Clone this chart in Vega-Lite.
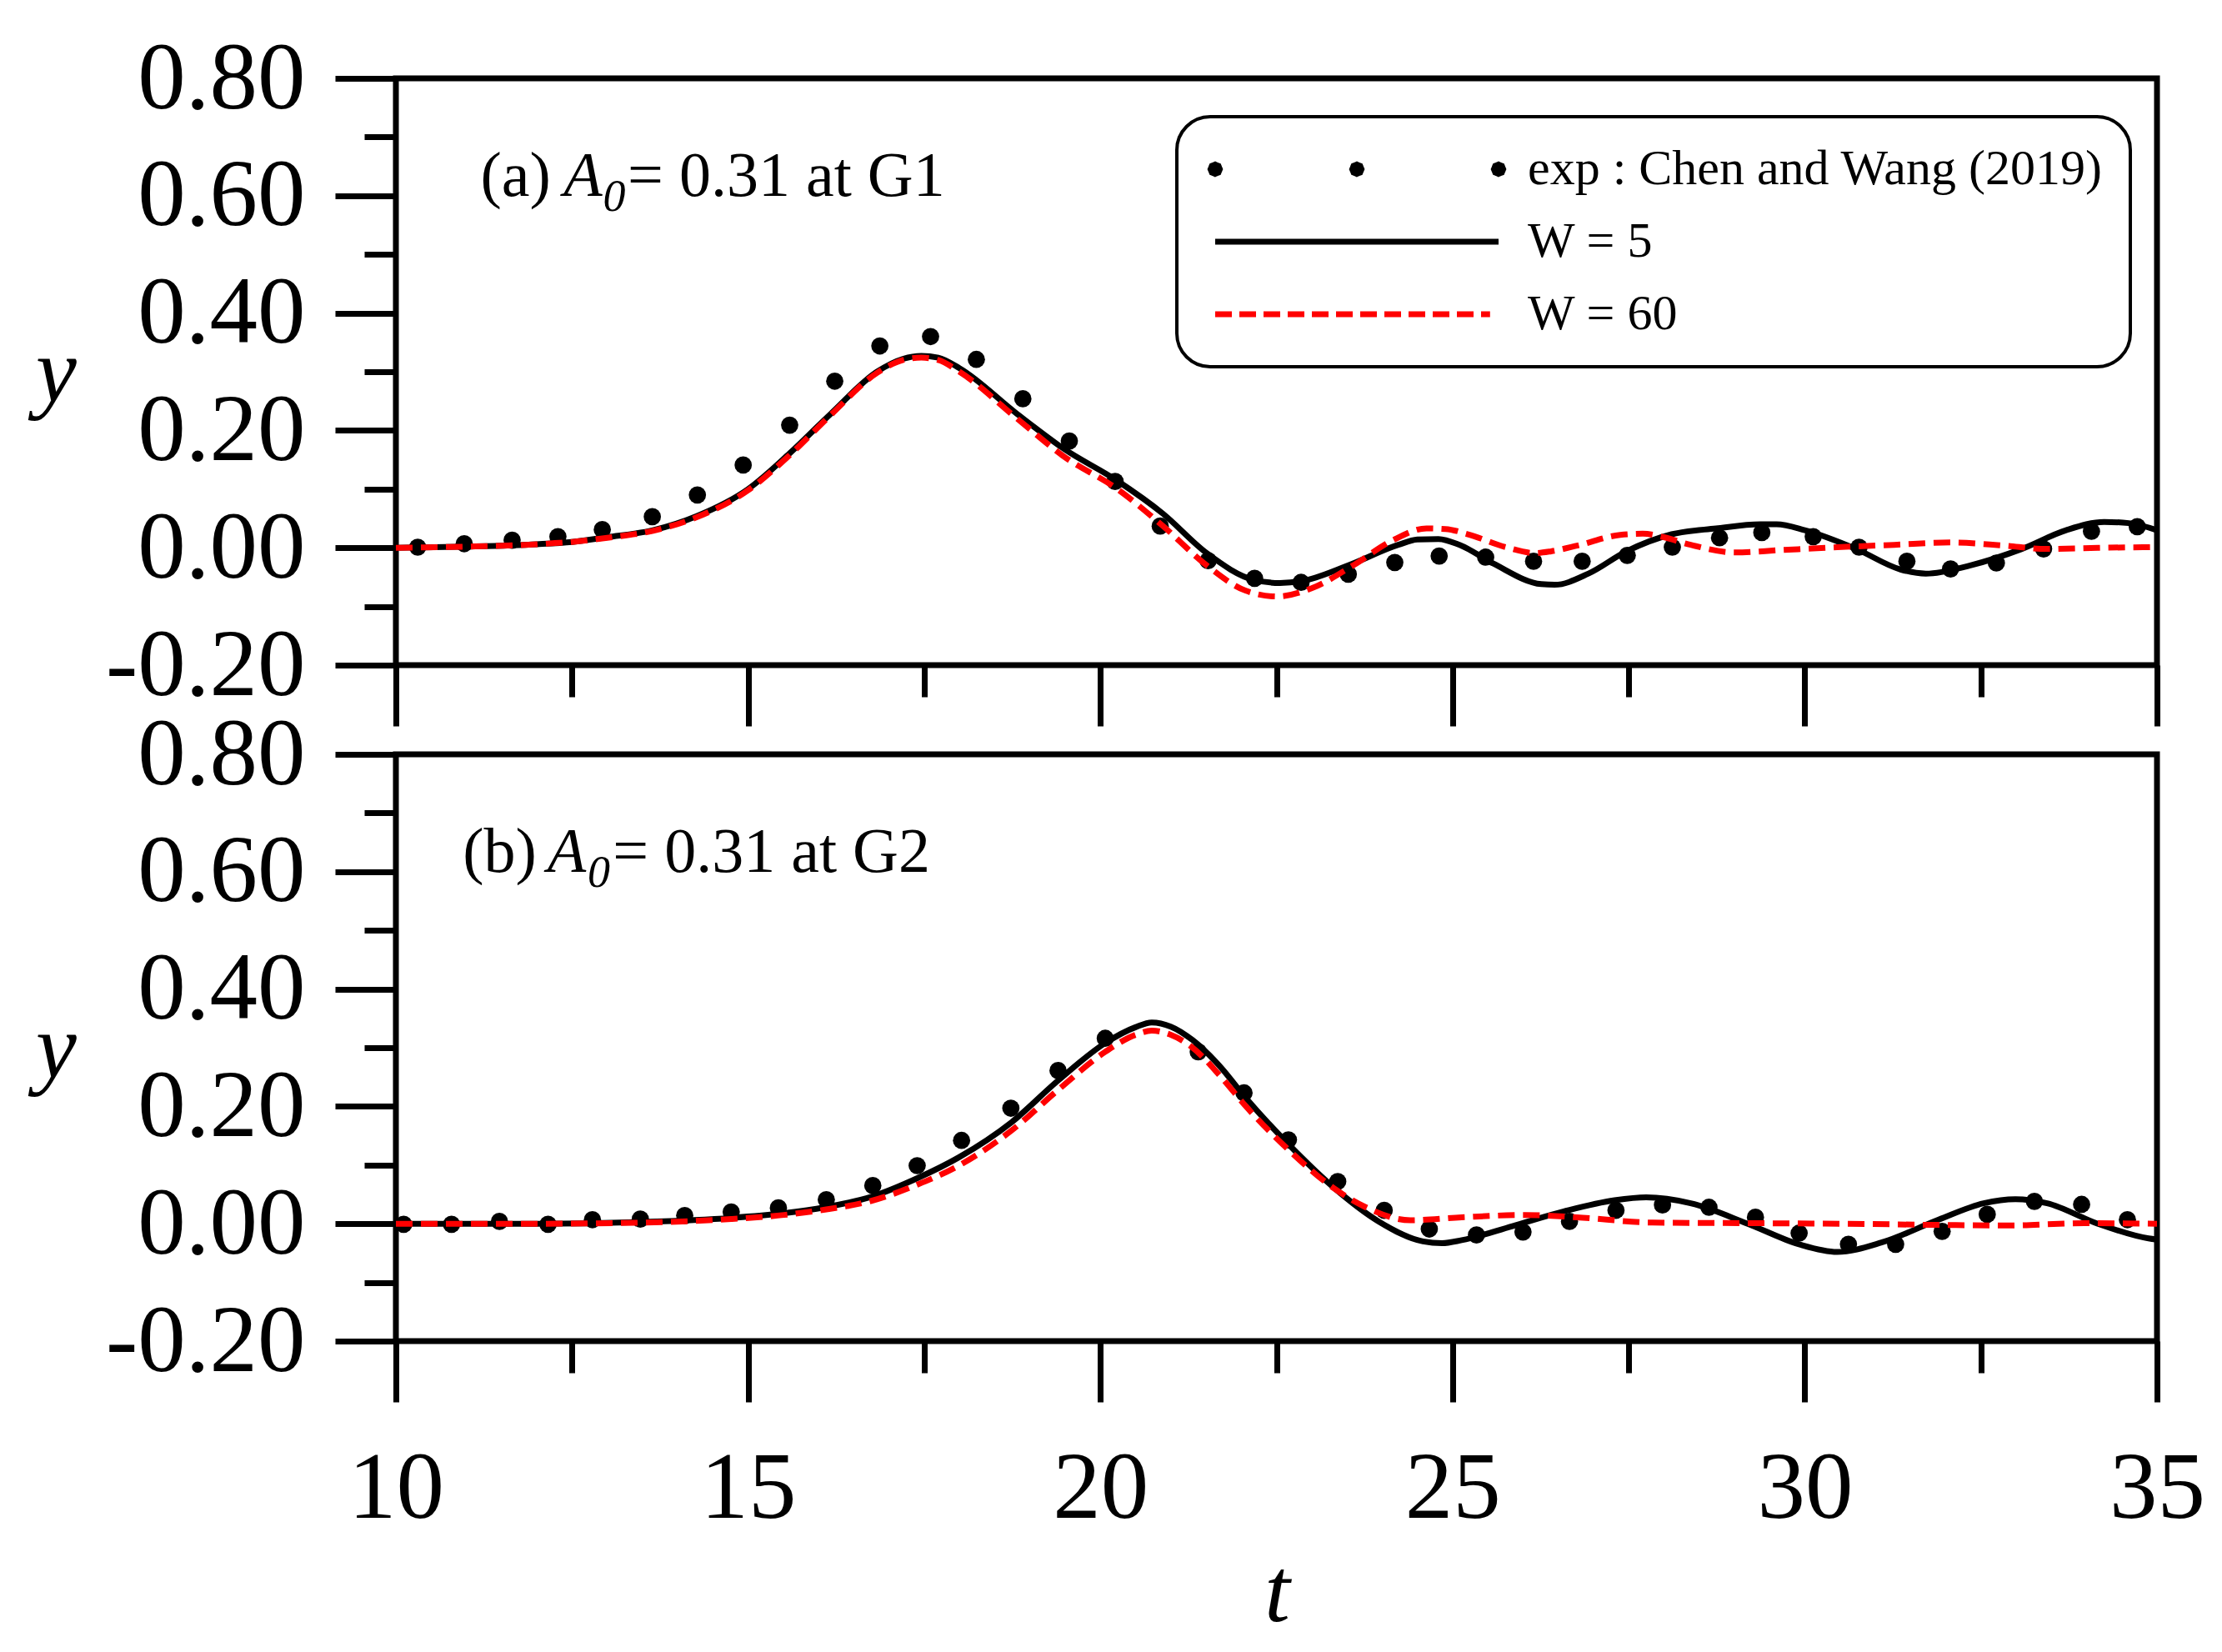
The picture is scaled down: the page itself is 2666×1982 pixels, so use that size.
{
  "$schema": "https://vega.github.io/schema/vega-lite/v6.json",
  "background": "white",
  "autosize": {"type": "pad"},
  "padding": {"left": 39, "top": 33, "right": 5, "bottom": 5},
  "bounds": "flush",
  "spacing": 107,
  "datasets": {
    "top": [
      {"series": "exp", "t": 10.31, "y": 0.001},
      {"series": "exp", "t": 10.97, "y": 0.007},
      {"series": "exp", "t": 11.65, "y": 0.013},
      {"series": "exp", "t": 12.30, "y": 0.019},
      {"series": "exp", "t": 12.93, "y": 0.031},
      {"series": "exp", "t": 13.64, "y": 0.053},
      {"series": "exp", "t": 14.28, "y": 0.090},
      {"series": "exp", "t": 14.93, "y": 0.141},
      {"series": "exp", "t": 15.59, "y": 0.209},
      {"series": "exp", "t": 16.23, "y": 0.284},
      {"series": "exp", "t": 16.87, "y": 0.344},
      {"series": "exp", "t": 17.59, "y": 0.360},
      {"series": "exp", "t": 18.24, "y": 0.321},
      {"series": "exp", "t": 18.90, "y": 0.254},
      {"series": "exp", "t": 19.56, "y": 0.182},
      {"series": "exp", "t": 20.21, "y": 0.113},
      {"series": "exp", "t": 20.85, "y": 0.037},
      {"series": "exp", "t": 21.53, "y": -0.022},
      {"series": "exp", "t": 22.19, "y": -0.052},
      {"series": "exp", "t": 22.85, "y": -0.059},
      {"series": "exp", "t": 23.52, "y": -0.045},
      {"series": "exp", "t": 24.18, "y": -0.025},
      {"series": "exp", "t": 24.81, "y": -0.014},
      {"series": "exp", "t": 25.47, "y": -0.016},
      {"series": "exp", "t": 26.15, "y": -0.023},
      {"series": "exp", "t": 26.84, "y": -0.023},
      {"series": "exp", "t": 27.48, "y": -0.013},
      {"series": "exp", "t": 28.12, "y": 0.001},
      {"series": "exp", "t": 28.79, "y": 0.017},
      {"series": "exp", "t": 29.39, "y": 0.026},
      {"series": "exp", "t": 30.12, "y": 0.019},
      {"series": "exp", "t": 30.77, "y": 0.001},
      {"series": "exp", "t": 31.45, "y": -0.023},
      {"series": "exp", "t": 32.07, "y": -0.036},
      {"series": "exp", "t": 32.72, "y": -0.026},
      {"series": "exp", "t": 33.39, "y": -0.002},
      {"series": "exp", "t": 34.07, "y": 0.028},
      {"series": "exp", "t": 34.72, "y": 0.036},
      {"series": "W5", "t": 10.0, "y": 0.0},
      {"series": "W5", "t": 11.0, "y": 0.002},
      {"series": "W5", "t": 12.0, "y": 0.006},
      {"series": "W5", "t": 12.5, "y": 0.010},
      {"series": "W5", "t": 13.0, "y": 0.018},
      {"series": "W5", "t": 13.65, "y": 0.030},
      {"series": "W5", "t": 14.27, "y": 0.054},
      {"series": "W5", "t": 15.0, "y": 0.100},
      {"series": "W5", "t": 15.59, "y": 0.161},
      {"series": "W5", "t": 16.17, "y": 0.228},
      {"series": "W5", "t": 16.83, "y": 0.300},
      {"series": "W5", "t": 17.2, "y": 0.322},
      {"series": "W5", "t": 17.46, "y": 0.327},
      {"series": "W5", "t": 17.7, "y": 0.324},
      {"series": "W5", "t": 18.0, "y": 0.306},
      {"series": "W5", "t": 18.82, "y": 0.228},
      {"series": "W5", "t": 19.49, "y": 0.168},
      {"series": "W5", "t": 20.23, "y": 0.115},
      {"series": "W5", "t": 20.89, "y": 0.058},
      {"series": "W5", "t": 21.51, "y": -0.009},
      {"series": "W5", "t": 22.19, "y": -0.055},
      {"series": "W5", "t": 22.55, "y": -0.060},
      {"series": "W5", "t": 22.85, "y": -0.057},
      {"series": "W5", "t": 23.52, "y": -0.030},
      {"series": "W5", "t": 24.23, "y": 0.005},
      {"series": "W5", "t": 24.5, "y": 0.014},
      {"series": "W5", "t": 24.8, "y": 0.015},
      {"series": "W5", "t": 25.1, "y": 0.005},
      {"series": "W5", "t": 25.58, "y": -0.027},
      {"series": "W5", "t": 26.26, "y": -0.062},
      {"series": "W5", "t": 26.45, "y": -0.063},
      {"series": "W5", "t": 26.93, "y": -0.044},
      {"series": "W5", "t": 27.47, "y": -0.006},
      {"series": "W5", "t": 28.11, "y": 0.023},
      {"series": "W5", "t": 28.74, "y": 0.033},
      {"series": "W5", "t": 29.37, "y": 0.040},
      {"series": "W5", "t": 29.6, "y": 0.040},
      {"series": "W5", "t": 30.0, "y": 0.030},
      {"series": "W5", "t": 30.73, "y": -0.002},
      {"series": "W5", "t": 31.36, "y": -0.037},
      {"series": "W5", "t": 31.72, "y": -0.044},
      {"series": "W5", "t": 32.35, "y": -0.030},
      {"series": "W5", "t": 33.08, "y": -0.002},
      {"series": "W5", "t": 33.71, "y": 0.030},
      {"series": "W5", "t": 34.25, "y": 0.044},
      {"series": "W5", "t": 34.6, "y": 0.042},
      {"series": "W5", "t": 35.0, "y": 0.030},
      {"series": "W60", "t": 10.0, "y": 0.0},
      {"series": "W60", "t": 11.0, "y": 0.002},
      {"series": "W60", "t": 12.0, "y": 0.006},
      {"series": "W60", "t": 12.5, "y": 0.010},
      {"series": "W60", "t": 13.0, "y": 0.017},
      {"series": "W60", "t": 13.65, "y": 0.029},
      {"series": "W60", "t": 14.27, "y": 0.052},
      {"series": "W60", "t": 15.0, "y": 0.098},
      {"series": "W60", "t": 15.59, "y": 0.158},
      {"series": "W60", "t": 16.17, "y": 0.226},
      {"series": "W60", "t": 16.83, "y": 0.298},
      {"series": "W60", "t": 17.2, "y": 0.320},
      {"series": "W60", "t": 17.46, "y": 0.324},
      {"series": "W60", "t": 17.7, "y": 0.320},
      {"series": "W60", "t": 18.0, "y": 0.300},
      {"series": "W60", "t": 18.82, "y": 0.220},
      {"series": "W60", "t": 19.49, "y": 0.155},
      {"series": "W60", "t": 20.23, "y": 0.101},
      {"series": "W60", "t": 20.89, "y": 0.037},
      {"series": "W60", "t": 21.51, "y": -0.030},
      {"series": "W60", "t": 22.06, "y": -0.073},
      {"series": "W60", "t": 22.51, "y": -0.083},
      {"series": "W60", "t": 23.0, "y": -0.069},
      {"series": "W60", "t": 23.59, "y": -0.030},
      {"series": "W60", "t": 24.14, "y": 0.012},
      {"series": "W60", "t": 24.63, "y": 0.033},
      {"series": "W60", "t": 24.9, "y": 0.032},
      {"series": "W60", "t": 25.22, "y": 0.023},
      {"series": "W60", "t": 25.76, "y": 0.001},
      {"series": "W60", "t": 26.17, "y": -0.009},
      {"series": "W60", "t": 26.4, "y": -0.006},
      {"series": "W60", "t": 26.78, "y": 0.004},
      {"series": "W60", "t": 27.38, "y": 0.022},
      {"series": "W60", "t": 27.7, "y": 0.024},
      {"series": "W60", "t": 28.0, "y": 0.018},
      {"series": "W60", "t": 28.38, "y": 0.005},
      {"series": "W60", "t": 29.01, "y": -0.008},
      {"series": "W60", "t": 29.65, "y": -0.004},
      {"series": "W60", "t": 30.46, "y": 0.001},
      {"series": "W60", "t": 31.27, "y": 0.005},
      {"series": "W60", "t": 32.08, "y": 0.009},
      {"series": "W60", "t": 32.81, "y": 0.004},
      {"series": "W60", "t": 33.44, "y": -0.002},
      {"series": "W60", "t": 34.16, "y": 0.0},
      {"series": "W60", "t": 35.0, "y": 0.001}
    ],
    "bottom": [
      {"series": "exp", "t": 10.11, "y": -0.001},
      {"series": "exp", "t": 10.79, "y": -0.001},
      {"series": "exp", "t": 11.47, "y": 0.004},
      {"series": "exp", "t": 12.16, "y": -0.001},
      {"series": "exp", "t": 12.79, "y": 0.007},
      {"series": "exp", "t": 13.47, "y": 0.008},
      {"series": "exp", "t": 14.10, "y": 0.014},
      {"series": "exp", "t": 14.76, "y": 0.020},
      {"series": "exp", "t": 15.43, "y": 0.027},
      {"series": "exp", "t": 16.11, "y": 0.041},
      {"series": "exp", "t": 16.77, "y": 0.065},
      {"series": "exp", "t": 17.40, "y": 0.099},
      {"series": "exp", "t": 18.03, "y": 0.142},
      {"series": "exp", "t": 18.73, "y": 0.197},
      {"series": "exp", "t": 19.40, "y": 0.261},
      {"series": "exp", "t": 20.07, "y": 0.316},
      {"series": "exp", "t": 21.39, "y": 0.293},
      {"series": "exp", "t": 22.04, "y": 0.223},
      {"series": "exp", "t": 22.67, "y": 0.143},
      {"series": "exp", "t": 23.37, "y": 0.072},
      {"series": "exp", "t": 24.03, "y": 0.023},
      {"series": "exp", "t": 24.67, "y": -0.009},
      {"series": "exp", "t": 25.34, "y": -0.019},
      {"series": "exp", "t": 26.00, "y": -0.014},
      {"series": "exp", "t": 26.66, "y": 0.004},
      {"series": "exp", "t": 27.32, "y": 0.023},
      {"series": "exp", "t": 27.98, "y": 0.032},
      {"series": "exp", "t": 28.64, "y": 0.028},
      {"series": "exp", "t": 29.30, "y": 0.011},
      {"series": "exp", "t": 29.92, "y": -0.016},
      {"series": "exp", "t": 30.62, "y": -0.035},
      {"series": "exp", "t": 31.29, "y": -0.035},
      {"series": "exp", "t": 31.95, "y": -0.013},
      {"series": "exp", "t": 32.59, "y": 0.016},
      {"series": "exp", "t": 33.26, "y": 0.038},
      {"series": "exp", "t": 33.93, "y": 0.033},
      {"series": "exp", "t": 34.58, "y": 0.007},
      {"series": "W5", "t": 10.0, "y": 0.0},
      {"series": "W5", "t": 12.0, "y": 0.0},
      {"series": "W5", "t": 13.5, "y": 0.003},
      {"series": "W5", "t": 14.76, "y": 0.010},
      {"series": "W5", "t": 15.51, "y": 0.018},
      {"series": "W5", "t": 16.09, "y": 0.028},
      {"series": "W5", "t": 16.75, "y": 0.046},
      {"series": "W5", "t": 17.41, "y": 0.078},
      {"series": "W5", "t": 17.99, "y": 0.113},
      {"series": "W5", "t": 18.74, "y": 0.173},
      {"series": "W5", "t": 19.40, "y": 0.244},
      {"series": "W5", "t": 20.07, "y": 0.308},
      {"series": "W5", "t": 20.5, "y": 0.335},
      {"series": "W5", "t": 20.73, "y": 0.343},
      {"series": "W5", "t": 21.0, "y": 0.336},
      {"series": "W5", "t": 21.31, "y": 0.313},
      {"series": "W5", "t": 21.7, "y": 0.268},
      {"series": "W5", "t": 22.06, "y": 0.215},
      {"series": "W5", "t": 22.69, "y": 0.133},
      {"series": "W5", "t": 23.32, "y": 0.061},
      {"series": "W5", "t": 23.95, "y": 0.004},
      {"series": "W5", "t": 24.58, "y": -0.030},
      {"series": "W5", "t": 24.85, "y": -0.033},
      {"series": "W5", "t": 25.13, "y": -0.028},
      {"series": "W5", "t": 25.85, "y": -0.004},
      {"series": "W5", "t": 26.58, "y": 0.021},
      {"series": "W5", "t": 27.30, "y": 0.040},
      {"series": "W5", "t": 27.75, "y": 0.045},
      {"series": "W5", "t": 28.38, "y": 0.035},
      {"series": "W5", "t": 29.19, "y": 0.0},
      {"series": "W5", "t": 29.92, "y": -0.035},
      {"series": "W5", "t": 30.46, "y": -0.048},
      {"series": "W5", "t": 31.09, "y": -0.032},
      {"series": "W5", "t": 31.90, "y": 0.007},
      {"series": "W5", "t": 32.54, "y": 0.035},
      {"series": "W5", "t": 32.99, "y": 0.042},
      {"series": "W5", "t": 33.44, "y": 0.035},
      {"series": "W5", "t": 34.16, "y": 0.0},
      {"series": "W5", "t": 34.88, "y": -0.025},
      {"series": "W5", "t": 35.0, "y": -0.027},
      {"series": "W60", "t": 10.0, "y": 0.0},
      {"series": "W60", "t": 12.0, "y": 0.0},
      {"series": "W60", "t": 13.5, "y": 0.002},
      {"series": "W60", "t": 14.76, "y": 0.008},
      {"series": "W60", "t": 15.51, "y": 0.015},
      {"series": "W60", "t": 16.09, "y": 0.024},
      {"series": "W60", "t": 16.75, "y": 0.039},
      {"series": "W60", "t": 17.41, "y": 0.067},
      {"series": "W60", "t": 17.99, "y": 0.099},
      {"series": "W60", "t": 18.74, "y": 0.159},
      {"series": "W60", "t": 19.40, "y": 0.228},
      {"series": "W60", "t": 20.07, "y": 0.293},
      {"series": "W60", "t": 20.5, "y": 0.322},
      {"series": "W60", "t": 20.73, "y": 0.329},
      {"series": "W60", "t": 21.0, "y": 0.322},
      {"series": "W60", "t": 21.31, "y": 0.300},
      {"series": "W60", "t": 21.7, "y": 0.252},
      {"series": "W60", "t": 22.06, "y": 0.201},
      {"series": "W60", "t": 22.69, "y": 0.124},
      {"series": "W60", "t": 23.32, "y": 0.060},
      {"series": "W60", "t": 23.77, "y": 0.028},
      {"series": "W60", "t": 24.40, "y": 0.006},
      {"series": "W60", "t": 25.13, "y": 0.011},
      {"series": "W60", "t": 26.04, "y": 0.015},
      {"series": "W60", "t": 26.76, "y": 0.011},
      {"series": "W60", "t": 27.84, "y": 0.002},
      {"series": "W60", "t": 29.19, "y": 0.001},
      {"series": "W60", "t": 30.55, "y": 0.0},
      {"series": "W60", "t": 31.90, "y": -0.002},
      {"series": "W60", "t": 32.89, "y": -0.003},
      {"series": "W60", "t": 33.97, "y": 0.001},
      {"series": "W60", "t": 35.0, "y": 0.0}
    ]
  },
  "vconcat": [
    {
      "width": 2113,
      "height": 704,
      "resolve": {"axis": {"x": "independent", "y": "independent"}},
      "layer": [
        {
          "data": {"name": "top"},
          "transform": [{"filter": "datum.series == 'exp'"}],
          "mark": {"type": "circle", "size": 430, "color": "black", "opacity": 1},
          "encoding": {
            "x": {"field": "t", "type": "quantitative",
              "scale": {"domain": [10, 35], "nice": false, "zero": false},
              "axis": {"orient": "bottom", "values": [10, 15, 20, 25, 30, 35], "labels": false, "title": null, "tickSize": 73}},
            "y": {"field": "y", "type": "quantitative",
              "scale": {"domain": [-0.2, 0.8], "nice": false, "zero": false},
              "axis": {"orient": "left", "values": [-0.2, 0, 0.2, 0.4, 0.6, 0.8], "tickSize": 73, "labelPadding": 36,
                "labelExpr": "datum.value < 0 ? '-' + format(-datum.value, '.2f') : format(datum.value, '.2f')",
                "title": "y", "titleAngle": 0, "titleX": -408, "titleY": 387, "titleAlign": "center", "titleBaseline": "alphabetic"}}
          }
        },
        {
          "data": {"name": "top"},
          "transform": [{"filter": "datum.series == 'W5'"}],
          "mark": {"type": "line", "color": "black", "strokeWidth": 7, "interpolate": "monotone"},
          "encoding": {
            "x": {"field": "t", "type": "quantitative",
              "axis": {"orient": "bottom", "values": [12.5, 17.5, 22.5, 27.5, 32.5], "labels": false, "title": null, "tickSize": 38}},
            "y": {"field": "y", "type": "quantitative",
              "axis": {"orient": "left", "values": [-0.1, 0.1, 0.3, 0.5, 0.7], "labels": false, "title": null, "tickSize": 38}}
          }
        },
        {
          "data": {"name": "top"},
          "transform": [{"filter": "datum.series == 'W60'"}],
          "mark": {"type": "line", "color": "#ff0000", "strokeWidth": 7, "strokeDash": [20, 10], "interpolate": "monotone"},
          "encoding": {
            "x": {"field": "t", "type": "quantitative", "axis": null},
            "y": {"field": "y", "type": "quantitative", "axis": null}
          }
        },
        {
          "data": {"name": "top"},
          "transform": [{"filter": "false"}],
          "mark": {"type": "point", "filled": false, "size": 1156, "strokeWidth": 7, "opacity": 1},
          "encoding": {
            "x": {"field": "t", "type": "quantitative", "axis": null},
            "y": {"field": "y", "type": "quantitative", "axis": null},
            "color": {"field": "series", "type": "nominal",
              "scale": {"domain": ["exp", "W5", "W60"], "range": ["black", "black", "#ff0000"]},
              "legend": {"title": null, "orient": "none", "legendX": 937, "legendY": 46,
                "labelExpr": "datum.label == 'exp' ? 'exp : Chen and Wang (2019)' : datum.label == 'W5' ? 'W = 5' : 'W = 60'"}},
            "shape": {"field": "series", "type": "nominal",
              "scale": {"domain": ["exp", "W5", "W60"], "range": [
                "M 0.33 0 L 0.233 0.233 L 0 0.33 L -0.233 0.233 L -0.33 0 L -0.233 -0.233 L 0 -0.33 L 0.233 -0.233 Z M -0.06 -0.06 L 0.06 -0.06 L 0.06 0.06 L -0.06 0.06 Z M 10.33 0 L 10.233 0.233 L 10 0.33 L 9.767 0.233 L 9.67 0 L 9.767 -0.233 L 10 -0.33 L 10.233 -0.233 Z M 9.94 -0.06 L 10.06 -0.06 L 10.06 0.06 L 9.94 0.06 Z M 20.33 0 L 20.233 0.233 L 20 0.33 L 19.767 0.233 L 19.67 0 L 19.767 -0.233 L 20 -0.33 L 20.233 -0.233 Z M 19.94 -0.06 L 20.06 -0.06 L 20.06 0.06 L 19.94 0.06 Z",
                "M 0 0 L 20 0",
                "M 0 0 L 19.4 0"]},
              "legend": {"title": null}},
            "strokeDash": {"field": "series", "type": "nominal",
              "scale": {"domain": ["exp", "W5", "W60"], "range": [[1, 0], [1, 0], [20, 9]]},
              "legend": {"title": null}}
          }
        },
        {
          "data": {"values": [{}]},
          "mark": {"type": "text", "text": "(a)", "align": "left", "baseline": "alphabetic", "font": "Liberation Serif", "fontSize": 76, "color": "black"},
          "encoding": {
            "x": {"datum": 11.2, "type": "quantitative", "axis": null},
            "y": {"datum": 0.6, "type": "quantitative", "axis": null}
          }
        },
        {
          "data": {"values": [{}]},
          "mark": {"type": "text", "text": "A", "align": "left", "baseline": "alphabetic", "font": "Liberation Serif", "fontSize": 76, "fontStyle": "italic", "color": "black"},
          "encoding": {
            "x": {"datum": 12.38, "type": "quantitative", "axis": null},
            "y": {"datum": 0.6, "type": "quantitative", "axis": null}
          }
        },
        {
          "data": {"values": [{}]},
          "mark": {"type": "text", "text": "0", "align": "left", "baseline": "alphabetic", "font": "Liberation Serif", "fontSize": 54, "fontStyle": "italic", "color": "black", "dy": 18},
          "encoding": {
            "x": {"datum": 12.94, "type": "quantitative", "axis": null},
            "y": {"datum": 0.6, "type": "quantitative", "axis": null}
          }
        },
        {
          "data": {"values": [{}]},
          "mark": {"type": "text", "text": "= 0.31 at G1", "align": "left", "baseline": "alphabetic", "font": "Liberation Serif", "fontSize": 76, "color": "black"},
          "encoding": {
            "x": {"datum": 13.29, "type": "quantitative", "axis": null},
            "y": {"datum": 0.6, "type": "quantitative", "axis": null}
          }
        }
      ]
    },
    {
      "width": 2113,
      "height": 704,
      "resolve": {"axis": {"x": "independent", "y": "independent"}},
      "layer": [
        {
          "data": {"name": "bottom"},
          "transform": [{"filter": "datum.series == 'exp'"}],
          "mark": {"type": "circle", "size": 430, "color": "black", "opacity": 1},
          "encoding": {
            "x": {"field": "t", "type": "quantitative",
              "scale": {"domain": [10, 35], "nice": false, "zero": false},
              "axis": {"orient": "bottom", "values": [10, 15, 20, 25, 30, 35], "format": "d", "tickSize": 73, "labelPadding": 47,
                "title": "t", "titleX": 1057, "titleY": 335, "titleAlign": "center", "titleBaseline": "alphabetic"}},
            "y": {"field": "y", "type": "quantitative",
              "scale": {"domain": [-0.2, 0.8], "nice": false, "zero": false},
              "axis": {"orient": "left", "values": [-0.2, 0, 0.2, 0.4, 0.6, 0.8], "tickSize": 73, "labelPadding": 36,
                "labelExpr": "datum.value < 0 ? '-' + format(-datum.value, '.2f') : format(datum.value, '.2f')",
                "title": "y", "titleAngle": 0, "titleX": -408, "titleY": 387, "titleAlign": "center", "titleBaseline": "alphabetic"}}
          }
        },
        {
          "data": {"name": "bottom"},
          "transform": [{"filter": "datum.series == 'W5'"}],
          "mark": {"type": "line", "color": "black", "strokeWidth": 7, "interpolate": "monotone"},
          "encoding": {
            "x": {"field": "t", "type": "quantitative",
              "axis": {"orient": "bottom", "values": [12.5, 17.5, 22.5, 27.5, 32.5], "labels": false, "title": null, "tickSize": 38}},
            "y": {"field": "y", "type": "quantitative",
              "axis": {"orient": "left", "values": [-0.1, 0.1, 0.3, 0.5, 0.7], "labels": false, "title": null, "tickSize": 38}}
          }
        },
        {
          "data": {"name": "bottom"},
          "transform": [{"filter": "datum.series == 'W60'"}],
          "mark": {"type": "line", "color": "#ff0000", "strokeWidth": 7, "strokeDash": [20, 10], "interpolate": "monotone"},
          "encoding": {
            "x": {"field": "t", "type": "quantitative", "axis": null},
            "y": {"field": "y", "type": "quantitative", "axis": null}
          }
        },
        {
          "data": {"values": [{}]},
          "mark": {"type": "text", "text": "(b)", "align": "left", "baseline": "alphabetic", "font": "Liberation Serif", "fontSize": 76, "color": "black"},
          "encoding": {
            "x": {"datum": 10.95, "type": "quantitative", "axis": null},
            "y": {"datum": 0.6, "type": "quantitative", "axis": null}
          }
        },
        {
          "data": {"values": [{}]},
          "mark": {"type": "text", "text": "A", "align": "left", "baseline": "alphabetic", "font": "Liberation Serif", "fontSize": 76, "fontStyle": "italic", "color": "black"},
          "encoding": {
            "x": {"datum": 12.15, "type": "quantitative", "axis": null},
            "y": {"datum": 0.6, "type": "quantitative", "axis": null}
          }
        },
        {
          "data": {"values": [{}]},
          "mark": {"type": "text", "text": "0", "align": "left", "baseline": "alphabetic", "font": "Liberation Serif", "fontSize": 54, "fontStyle": "italic", "color": "black", "dy": 18},
          "encoding": {
            "x": {"datum": 12.72, "type": "quantitative", "axis": null},
            "y": {"datum": 0.6, "type": "quantitative", "axis": null}
          }
        },
        {
          "data": {"values": [{}]},
          "mark": {"type": "text", "text": "= 0.31 at G2", "align": "left", "baseline": "alphabetic", "font": "Liberation Serif", "fontSize": 76, "color": "black"},
          "encoding": {
            "x": {"datum": 13.08, "type": "quantitative", "axis": null},
            "y": {"datum": 0.6, "type": "quantitative", "axis": null}
          }
        }
      ]
    }
  ],
  "resolve": {
    "scale": {"x": "independent", "y": "independent", "color": "independent", "shape": "independent", "strokeDash": "independent"},
    "legend": {"color": "independent", "shape": "independent", "strokeDash": "independent"}
  },
  "config": {
    "view": {"stroke": "black", "strokeWidth": 7},
    "axis": {
      "domain": false,
      "grid": false,
      "tickColor": "black",
      "tickWidth": 7,
      "labelFont": "Liberation Serif",
      "labelFontSize": 115,
      "labelColor": "black",
      "labelLimit": 500,
      "labelFlush": false,
      "labelOverlap": false,
      "titleFont": "Liberation Serif",
      "titleFontSize": 110,
      "titleFontStyle": "italic",
      "titleFontWeight": "normal",
      "titleColor": "black"
    },
    "legend": {
      "orient": "none",
      "legendX": 937,
      "legendY": 46,
      "padding": 33,
      "cornerRadius": 40,
      "strokeColor": "black",
      "strokeWidth": 4,
      "fillColor": "white",
      "labelFont": "Liberation Serif",
      "labelFontSize": 60,
      "labelColor": "black",
      "labelLimit": 1500,
      "labelOffset": 345,
      "symbolOffset": -17,
      "symbolSize": 1156,
      "symbolStrokeWidth": 7,
      "rowPadding": 27
    }
  }
}
